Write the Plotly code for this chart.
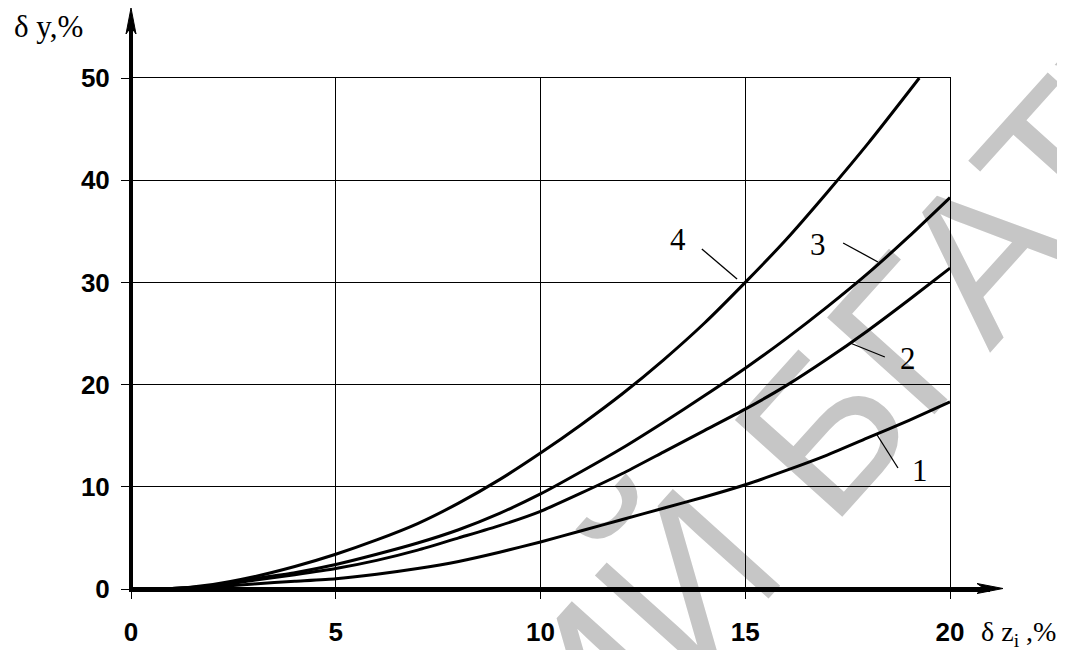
import plotly.graph_objects as go

# ---- data ----
x_vals = [0, 1, 2, 3, 4, 5, 6, 7, 8, 9, 10, 11, 12, 13, 14, 15, 16, 17, 18, 19, 20]
curve1 = [0, 0.03, 0.2, 0.5, 0.75, 1.0, 1.45, 2.0, 2.7, 3.6, 4.6, 5.7, 6.8, 7.9, 9.0, 10.2, 11.6, 13.1, 14.8, 16.5, 18.3]
curve2 = [0, 0.05, 0.3, 0.85, 1.4, 2.0, 2.8, 3.8, 5.0, 6.2, 7.6, 9.4, 11.3, 13.4, 15.5, 17.6, 19.9, 22.5, 25.3, 28.3, 31.4]
curve3 = [0, 0.05, 0.35, 1.0, 1.6, 2.4, 3.4, 4.5, 5.8, 7.4, 9.3, 11.5, 13.8, 16.3, 18.9, 21.6, 24.5, 27.6, 30.9, 34.5, 38.3]
x4_vals = [0, 1, 2, 3, 4, 5, 6, 7, 8, 9, 10, 11, 12, 13, 14, 15, 16, 17, 18, 19, 19.25]
curve4 = [0, 0.05, 0.45, 1.2, 2.2, 3.4, 4.8, 6.4, 8.4, 10.7, 13.3, 16.1, 19.1, 22.4, 26.0, 30.0, 34.2, 38.8, 43.6, 48.7, 50.0]

x_ticks = [0, 5, 10, 15, 20]
y_ticks = [0, 10, 20, 30, 40, 50]
curve_names = ["1", "2", "3", "4"]

# label positions (text) and leader lines (curve point -> toward text), data units
label_pos = {"1": (19.27, 11.64), "2": (18.97, 22.6), "3": (16.78, 33.66), "4": (13.36, 34.15)}
leader = {"1": ((18.22, 15.07), (18.73, 11.84)),
          "2": ((17.56, 24.07), (18.41, 22.70)),
          "3": ((18.24, 32.00), (17.39, 33.86)),
          "4": ((14.80, 30.33), (13.94, 33.27))}

SERIF = "Liberation Serif, Times New Roman, serif"
SANS = "Liberation Sans, Arial, sans-serif"

# page body has an 8px margin: build the figure 8px smaller and shift coordinates
OFF = 8
W, H = 1065 - OFF, 650 - OFF
L, T = 131 - OFF, 78 - OFF
pw, ph = 819, 511
R = W - L - pw
B = H - T - ph


def fx(px):  # reference pixel -> paper x
    return (px - OFF - L) / pw


def fy(py):  # reference pixel -> paper y
    return (T + ph - (py - OFF)) / ph


fig = go.Figure()
series = [(x_vals, curve1), (x_vals, curve2), (x_vals, curve3), (x4_vals, curve4)]
for name, (xs, ys) in zip(curve_names, series):
    fig.add_trace(go.Scatter(x=xs, y=ys, mode="lines", name=name,
                             line=dict(color="black", width=3, shape="spline", smoothing=0.5),
                             showlegend=False, hoverinfo="skip"))

shapes = []
annotations = []

# watermark (below everything)
shapes.append(dict(type="rect", xref="paper", yref="paper",
                   x0=fx(848), x1=fx(852), y0=fy(372), y1=fy(368),
                   line=dict(width=0), fillcolor="rgba(0,0,0,0)", layer="below",
                   label=dict(text="ИЙ БГАТУ", textangle=-48, textposition="middle center",
                              font=dict(family=SANS, size=210, color="#c6c6c6"))))

# leader lines + curve labels
for n in curve_names:
    (xa, ya), (xb, yb) = leader[n]
    shapes.append(dict(type="line", xref="x", yref="y", x0=xa, y0=ya, x1=xb, y1=yb,
                       line=dict(color="black", width=1.3)))
    tx, ty = label_pos[n]
    annotations.append(dict(x=tx, y=ty, xref="x", yref="y", text=n, showarrow=False,
                            font=dict(family=SERIF, size=31, color="black")))

# thick axes with arrowheads
shapes.append(dict(type="line", xref="paper", yref="paper", x0=fx(129), x1=fx(990), y0=fy(589.5), y1=fy(589.5),
                   line=dict(color="black", width=5)))
shapes.append(dict(type="path", xref="paper", yref="paper",
                   path=f"M {fx(1003)},{fy(588.5)} L {fx(977)},{fy(583.5)} L {fx(984)},{fy(588.5)} L {fx(977)},{fy(593.5)} Z",
                   fillcolor="black", line=dict(color="black", width=1)))
shapes.append(dict(type="line", xref="paper", yref="paper", x0=fx(131), x1=fx(131), y0=fy(592), y1=fy(22),
                   line=dict(color="black", width=4)))
shapes.append(dict(type="path", xref="paper", yref="paper",
                   path=f"M {fx(131)},{fy(8)} L {fx(126)},{fy(34)} L {fx(131)},{fy(27)} L {fx(136)},{fy(34)} Z",
                   fillcolor="black", line=dict(color="black", width=1)))

# axis titles
annotations.append(dict(x=fx(12), y=fy(26), xref="paper", yref="paper", xanchor="left", yanchor="middle",
                        text="δ y,%", showarrow=False, font=dict(family=SERIF, size=31, color="black")))
annotations.append(dict(x=fx(979), y=fy(633), xref="paper", yref="paper", xanchor="left", yanchor="middle",
                        text="δ z<sub>i</sub> ,%", showarrow=False, font=dict(family=SERIF, size=28, color="black")))

fig.update_layout(
    width=W, height=H, autosize=False,
    margin=dict(l=L, r=R, t=T, b=B, pad=0),
    paper_bgcolor="white", plot_bgcolor="rgba(0,0,0,0)",
    shapes=shapes, annotations=annotations,
)
fig.update_xaxes(range=[0, 20], tickvals=x_ticks, ticktext=[str(v) for v in x_ticks],
                 showgrid=True, gridcolor="black", gridwidth=1, zeroline=False, automargin=False,
                 showline=True, mirror=True, linewidth=1, linecolor="black",
                 ticks="outside", ticklen=9, tickwidth=1, tickcolor="black",
                 ticklabelstandoff=11,
                 tickfont=dict(family=SANS, size=26, color="black", weight="bold"))
fig.update_yaxes(range=[0, 50], tickvals=y_ticks, ticktext=[str(v) for v in y_ticks],
                 showgrid=True, gridcolor="black", gridwidth=1, zeroline=False, automargin=False,
                 showline=True, mirror=True, linewidth=1, linecolor="black",
                 ticks="outside", ticklen=9, tickwidth=1, tickcolor="black",
                 ticklabelstandoff=6,
                 tickfont=dict(family=SANS, size=26, color="black", weight="bold"))

fig.write_html("out.html")
